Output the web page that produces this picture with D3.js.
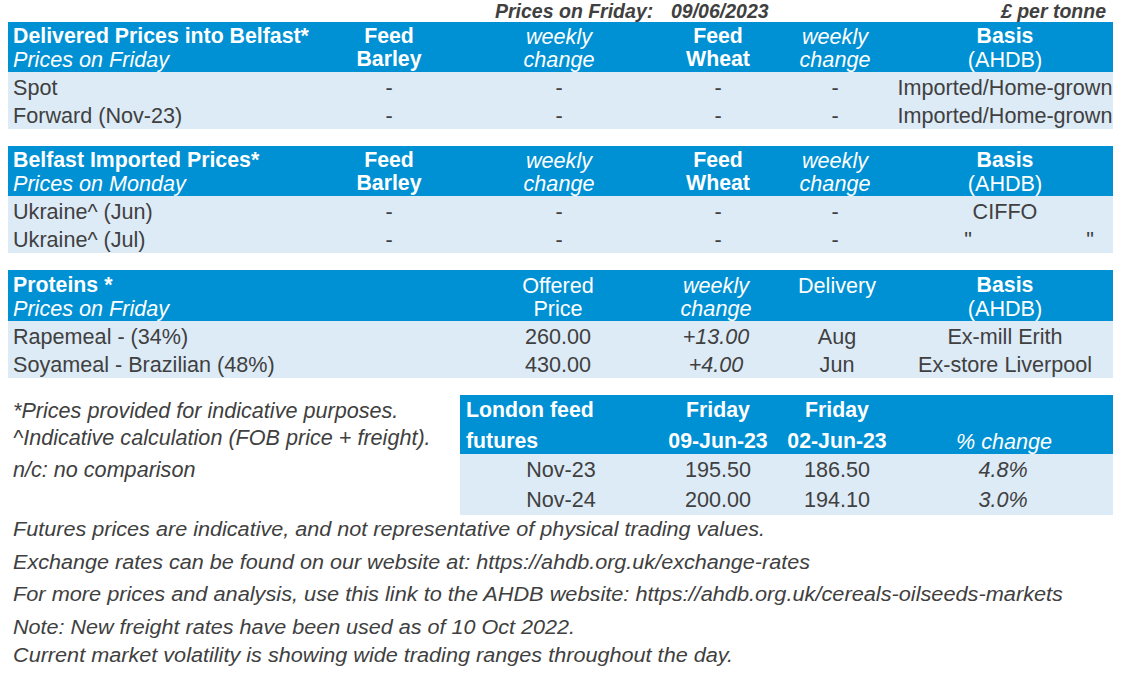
<!DOCTYPE html>
<html><head><meta charset="utf-8">
<script src="https://cdn.jsdelivr.net/npm/d3@7"></script>
<style>
html,body{margin:0;padding:0;background:#fff;}
svg{display:block;font-family:"Liberation Sans",Arial,sans-serif;}
</style></head>
<body><svg id="c" width="1125" height="676"></svg>
<script>
// ---------- data ----------
const titleLabels = ["Prices on Friday:", "09/06/2023", "£ per tonne"];

const deliveredTitle = ["Delivered Prices into Belfast*", "Prices on Friday"];
const deliveredCats = ["Spot", "Forward (Nov-23)"];
const deliveredBarley = ["-", "-"];
const deliveredBarleyChange = ["-", "-"];
const deliveredWheat = ["-", "-"];
const deliveredWheatChange = ["-", "-"];
const deliveredBasis = ["Imported/Home-grown", "Imported/Home-grown"];

const importedTitle = ["Belfast Imported Prices*", "Prices on Monday"];
const importedCats = ["Ukraine^ (Jun)", "Ukraine^ (Jul)"];
const importedBarley = ["-", "-"];
const importedBarleyChange = ["-", "-"];
const importedWheat = ["-", "-"];
const importedWheatChange = ["-", "-"];
const importedBasis = ["CIFFO", "ditto"];

const proteinTitle = ["Proteins *", "Prices on Friday"];
const proteinCats = ["Rapemeal - (34%)", "Soyameal - Brazilian (48%)"];
const proteinPrice = [260.00, 430.00];
const proteinChange = [13.00, 4.00];
const proteinDelivery = ["Aug", "Jun"];
const proteinBasis = ["Ex-mill Erith", "Ex-store Liverpool"];

const futuresTitle = ["London feed", "futures"];
const futuresDates = ["09-Jun-23", "02-Jun-23"];
const futuresCats = ["Nov-23", "Nov-24"];
const futuresThisWeek = [195.50, 200.00];
const futuresLastWeek = [186.50, 194.10];
const futuresPctChange = [4.8, 3.0];

const footnotes = ["*Prices provided for indicative purposes.",
  "^Indicative calculation (FOB price + freight).",
  "n/c: no comparison"];
const notes = ["Futures prices are indicative, and not representative of physical trading values.",
  "Exchange rates can be found on our website at: https://ahdb.org.uk/exchange-rates",
  "For more prices and analysis, use this link to the AHDB website: https://ahdb.org.uk/cereals-oilseeds-markets",
  "Note: New freight rates have been used as of 10 Oct 2022.",
  "Current market volatility is showing wide trading ranges throughout the day."];

// ---------- styles / layout ----------
const BLUE = "#0091d4", LIGHT = "#ddebf7", TXT = "#404040";
const FS = 21.6, FSB = 21.3;
const svg = d3.select("#c");

const colX = d3.scaleOrdinal()
  .domain(["barley","barleyChg","wheat","wheatChg","basis","price","priceChg","delivery"])
  .range([389, 559, 718, 835, 1005, 558, 716, 837]);
const futX = d3.scaleOrdinal().domain(["cat","now","prev","pct"]).range([561, 718, 837, 1003]);

function txt(g, x, y, s, o = {}) {
  const t = g.append("text").attr("x", x).attr("y", y).text(s)
    .attr("font-size", o.size || (o.bold ? FSB : FS))
    .attr("fill", o.fill || TXT)
    .attr("text-anchor", o.anchor || "start")
    .attr("dy", "0.35em");
  if (o.bold) t.attr("font-weight", "bold");
  if (o.italic) t.attr("font-style", "italic");
  if (o.len) t.attr("textLength", o.len).attr("lengthAdjust", "spacingAndGlyphs");
  return t;
}

function block(top, hdrBottom, bottom, x0, x1, cats) {
  const g = svg.append("g");
  g.append("rect").attr("x", x0).attr("y", top).attr("width", x1 - x0).attr("height", hdrBottom - top).attr("fill", BLUE);
  g.append("rect").attr("x", x0).attr("y", hdrBottom).attr("width", x1 - x0).attr("height", bottom - hdrBottom).attr("fill", LIGHT);
  const y = d3.scaleBand().domain(cats).range([hdrBottom, bottom]);
  return {g, y};
}

// title line
txt(svg, 495, 11, titleLabels[0], {bold: true, italic: true, size: 19.5});
txt(svg, 671, 11, titleLabels[1], {bold: true, italic: true, size: 19.5});
txt(svg, 1106, 11, titleLabels[2], {bold: true, italic: true, size: 19.5, anchor: "end"});

const fmt2 = d3.format(".2f");
const fmtSigned = d => (d > 0 ? "+" : "") + fmt2(d);

// Table 1 & 2 (grain)
function grainTable(top, title, cats, barley, barleyChg, wheat, wheatChg, basis) {
  const hdr = top + 50, bot = hdr + 57;
  const {g, y} = block(top, hdr, bot, 8, 1113, cats);
  const y1 = top + 14, y2 = top + 37;
  txt(g, 13, y1, title[0], {bold: true, fill: "#fff"});
  txt(g, 13, y2, title[1], {italic: true, fill: "#fff"});
  [["barley","Feed","Barley",true],["barleyChg","weekly","change",false],["wheat","Feed","Wheat",true],["wheatChg","weekly","change",false]]
    .forEach(([k, a, b, bold]) => {
      txt(g, colX(k), y1, a, {bold, italic: !bold, fill: "#fff", anchor: "middle"});
      txt(g, colX(k), y2, b, {bold, italic: !bold, fill: "#fff", anchor: "middle"});
    });
  txt(g, colX("basis"), y1, "Basis", {bold: true, fill: "#fff", anchor: "middle"});
  txt(g, colX("basis"), y2, "(AHDB)", {fill: "#fff", anchor: "middle"});
  cats.forEach((c, i) => {
    const cy = y(c) + y.bandwidth() / 2 + 1;
    txt(g, 13, cy, c);
    txt(g, colX("barley"), cy, barley[i], {anchor: "middle"});
    txt(g, colX("barleyChg"), cy, barleyChg[i], {anchor: "middle"});
    txt(g, colX("wheat"), cy, wheat[i], {anchor: "middle"});
    txt(g, colX("wheatChg"), cy, wheatChg[i], {anchor: "middle"});
    if (basis[i] === "ditto") {
      txt(g, colX("basis") - 37, cy, '"', {anchor: "middle"});
      txt(g, colX("basis") + 85, cy, '"', {anchor: "middle"});
    } else {
      txt(g, colX("basis"), cy, basis[i], {anchor: "middle"});
    }
  });
}
grainTable(22, deliveredTitle, deliveredCats, deliveredBarley, deliveredBarleyChange, deliveredWheat, deliveredWheatChange, deliveredBasis);
grainTable(146, importedTitle, importedCats, importedBarley, importedBarleyChange, importedWheat, importedWheatChange, importedBasis);

// Table 3 proteins
(function () {
  const top = 270, hdr = 321, bot = 378;
  const {g, y} = block(top, hdr, bot, 8, 1113, proteinCats);
  const y1 = top + 15, y2 = top + 38;
  txt(g, 13, y1, proteinTitle[0], {bold: true, fill: "#fff"});
  txt(g, 13, y2, proteinTitle[1], {italic: true, fill: "#fff"});
  txt(g, colX("price"), y1, "Offered", {fill: "#fff", anchor: "middle"});
  txt(g, colX("price"), y2, "Price", {fill: "#fff", anchor: "middle"});
  txt(g, colX("priceChg"), y1, "weekly", {italic: true, fill: "#fff", anchor: "middle"});
  txt(g, colX("priceChg"), y2, "change", {italic: true, fill: "#fff", anchor: "middle"});
  txt(g, colX("delivery"), y1, "Delivery", {fill: "#fff", anchor: "middle"});
  txt(g, colX("basis"), y1, "Basis", {bold: true, fill: "#fff", anchor: "middle"});
  txt(g, colX("basis"), y2, "(AHDB)", {fill: "#fff", anchor: "middle"});
  proteinCats.forEach((c, i) => {
    const cy = y(c) + y.bandwidth() / 2 + 1;
    txt(g, 13, cy, c);
    txt(g, colX("price"), cy, fmt2(proteinPrice[i]), {anchor: "middle"});
    txt(g, colX("priceChg"), cy, fmtSigned(proteinChange[i]), {anchor: "middle", italic: true});
    txt(g, colX("delivery"), cy, proteinDelivery[i], {anchor: "middle"});
    txt(g, colX("basis"), cy, proteinBasis[i], {anchor: "middle"});
  });
})();

// footnotes
footnotes.forEach((f, i) => txt(svg, 13, [410, 437, 469][i], f, {italic: true, size: 21.6}));

// futures table
(function () {
  const top = 395, hdr = 454, bot = 515;
  const {g, y} = block(top, hdr, bot, 460, 1113, futuresCats);
  const y1 = 410, y2 = 441;
  txt(g, 466, y1, futuresTitle[0], {bold: true, fill: "#fff"});
  txt(g, 466, y2, futuresTitle[1], {bold: true, fill: "#fff"});
  txt(g, futX("now"), y1, "Friday", {bold: true, fill: "#fff", anchor: "middle"});
  txt(g, futX("now"), y2, futuresDates[0], {bold: true, fill: "#fff", anchor: "middle"});
  txt(g, futX("prev"), y1, "Friday", {bold: true, fill: "#fff", anchor: "middle"});
  txt(g, futX("prev"), y2, futuresDates[1], {bold: true, fill: "#fff", anchor: "middle"});
  txt(g, 1004, y2, "% change", {italic: true, fill: "#fff", anchor: "middle"});
  futuresCats.forEach((c, i) => {
    const cy = y(c) + y.bandwidth() / 2;
    txt(g, futX("cat"), cy, c, {anchor: "middle"});
    txt(g, futX("now"), cy, fmt2(futuresThisWeek[i]), {anchor: "middle"});
    txt(g, futX("prev"), cy, fmt2(futuresLastWeek[i]), {anchor: "middle"});
    txt(g, futX("pct"), cy, d3.format(".1f")(futuresPctChange[i]) + "%", {anchor: "middle", italic: true});
  });
})();

// bottom notes (narrow italic)
const noteLens = [752, 797, 1050, 562, 720];
notes.forEach((n, i) => txt(svg, 13, [529, 562, 594, 627, 655][i], n, {italic: true, size: 20, len: noteLens[i]}));
</script></body></html>
